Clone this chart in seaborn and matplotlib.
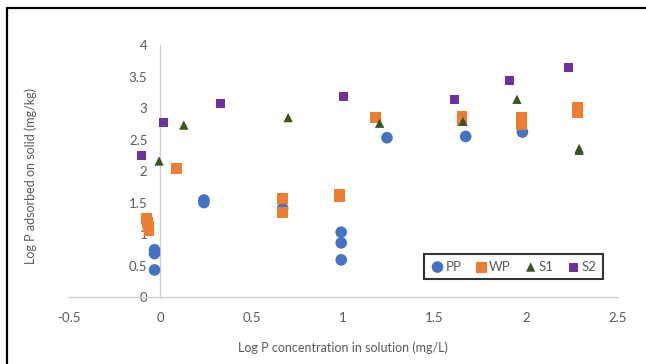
import matplotlib
matplotlib.use("Agg")
import matplotlib.pyplot as plt
import seaborn as sns
import pandas as pd
from matplotlib.lines import Line2D
from matplotlib.ticker import MultipleLocator

pp_x = [-0.03, -0.03, -0.03, 0.24, 0.24, 0.67, 0.99, 0.99, 0.99, 1.24, 1.67, 1.98]
pp_y = [0.43, 0.69, 0.75, 1.50, 1.54, 1.41, 0.59, 0.86, 1.03, 2.53, 2.55, 2.62]

wp_x = [-0.075, -0.07, -0.065, -0.06, 0.09, 0.67, 0.67, 0.98, 0.98, 1.175, 1.65, 1.65, 1.975, 1.975, 2.28, 2.28]
wp_y = [1.25, 1.19, 1.12, 1.05, 2.04, 1.57, 1.34, 1.63, 1.60, 2.85, 2.87, 2.81, 2.85, 2.74, 3.01, 2.93]

s1_x = [-0.005, 0.13, 0.70, 1.20, 1.655, 1.95, 2.29, 2.29]
s1_y = [2.16, 2.73, 2.85, 2.76, 2.79, 3.14, 2.36, 2.33]

s2_x = [-0.10, 0.02, 0.33, 1.00, 1.61, 1.91, 2.23]
s2_y = [2.25, 2.77, 3.07, 3.18, 3.14, 3.44, 3.65]

series = ["PP", "WP", "S1", "S2"]
colors = {"PP": "#4472C4", "WP": "#ED7D31", "S1": "#375623", "S2": "#7030A0"}
markers = {"PP": "o", "WP": "s", "S1": "^", "S2": "s"}
sizes = {"PP": 70, "WP": 62, "S1": 45, "S2": 42}

frames = []
for name, xs, ys in [("PP", pp_x, pp_y), ("WP", wp_x, wp_y), ("S1", s1_x, s1_y), ("S2", s2_x, s2_y)]:
    frames.append(pd.DataFrame({"x": xs, "y": ys, "series": name}))
df = pd.concat(frames, ignore_index=True)

sns.set_style("white")
plt.rcParams["font.family"] = ["Lato", "DejaVu Sans"]

fig = plt.figure(figsize=(6.46, 3.64), dpi=100)
ax = fig.add_axes([0.106, 0.184, 0.850, 0.692])

for name in series:
    sub = df[df["series"] == name]
    sns.scatterplot(data=sub, x="x", y="y", ax=ax, color=colors[name], marker=markers[name],
                    s=sizes[name], edgecolor="none", label=name, zorder=3)

ax.set_xlim(-0.5, 2.5)
ax.set_ylim(0, 4)
ax.xaxis.set_major_locator(MultipleLocator(0.5))
ax.yaxis.set_major_locator(MultipleLocator(0.5))
ax.xaxis.set_minor_locator(MultipleLocator(0.1))
ax.yaxis.set_minor_locator(MultipleLocator(0.1))
ax.set_xticks([-0.5, 0, 0.5, 1, 1.5, 2, 2.5])
ax.set_xticklabels(["-0.5", "0", "0.5", "1", "1.5", "2", "2.5"])
ax.set_yticks([0, 0.5, 1, 1.5, 2, 2.5, 3, 3.5, 4])
ax.set_yticklabels(["0", "0.5", "1", "1.5", "2", "2.5", "3", "3.5", "4"])

for s in ["top", "right"]:
    ax.spines[s].set_visible(False)
ax.spines["left"].set_position(("data", 0))
ax.spines["bottom"].set_position(("data", 0))
for s in ["left", "bottom"]:
    ax.spines[s].set_color("#D0D0D0")
    ax.spines[s].set_linewidth(1.0)

ax.tick_params(axis="x", which="major", direction="out", length=4, color="#D0D0D0",
               labelcolor="#595959", labelsize=9.5, pad=7)
ax.tick_params(axis="x", which="minor", direction="out", length=3, color="#D0D0D0")
ax.tick_params(axis="y", which="major", direction="inout", length=6, color="#D0D0D0",
               labelcolor="#595959", labelsize=9.5, pad=6)
ax.tick_params(axis="y", which="minor", direction="inout", length=3, color="#D0D0D0")

ax.set_xlabel("Log P concentration in solution (mg/L)", color="#595959", fontsize=9)
ax.set_ylabel("Log P adsorbed on solid (mg/kg)", color="#595959", fontsize=9)
ax.xaxis.set_label_coords(0.5, -0.175)
ax.yaxis.set_label_coords(-0.058, 0.48)

leg = ax.legend(loc="lower left", bbox_to_anchor=(0.648, 0.071), ncol=4, frameon=True,
                fancybox=False, fontsize=9.5, handletextpad=0.1, columnspacing=1.0,
                borderpad=0.5, handlelength=1.0, borderaxespad=0)
leg.get_frame().set_edgecolor("black")
leg.get_frame().set_linewidth(1.5)
for t in leg.get_texts():
    t.set_color("#595959")

# figure border (left and top)
W, H = 646, 364
fig.add_artist(Line2D([6.7 / W, 6.7 / W], [0, 1 - 8.3 / H], transform=fig.transFigure, color="black", lw=1.6))
fig.add_artist(Line2D([6.7 / W, 1], [1 - 8.3 / H, 1 - 8.3 / H], transform=fig.transFigure, color="black", lw=1.6))

fig.savefig("out.png", dpi=100)
